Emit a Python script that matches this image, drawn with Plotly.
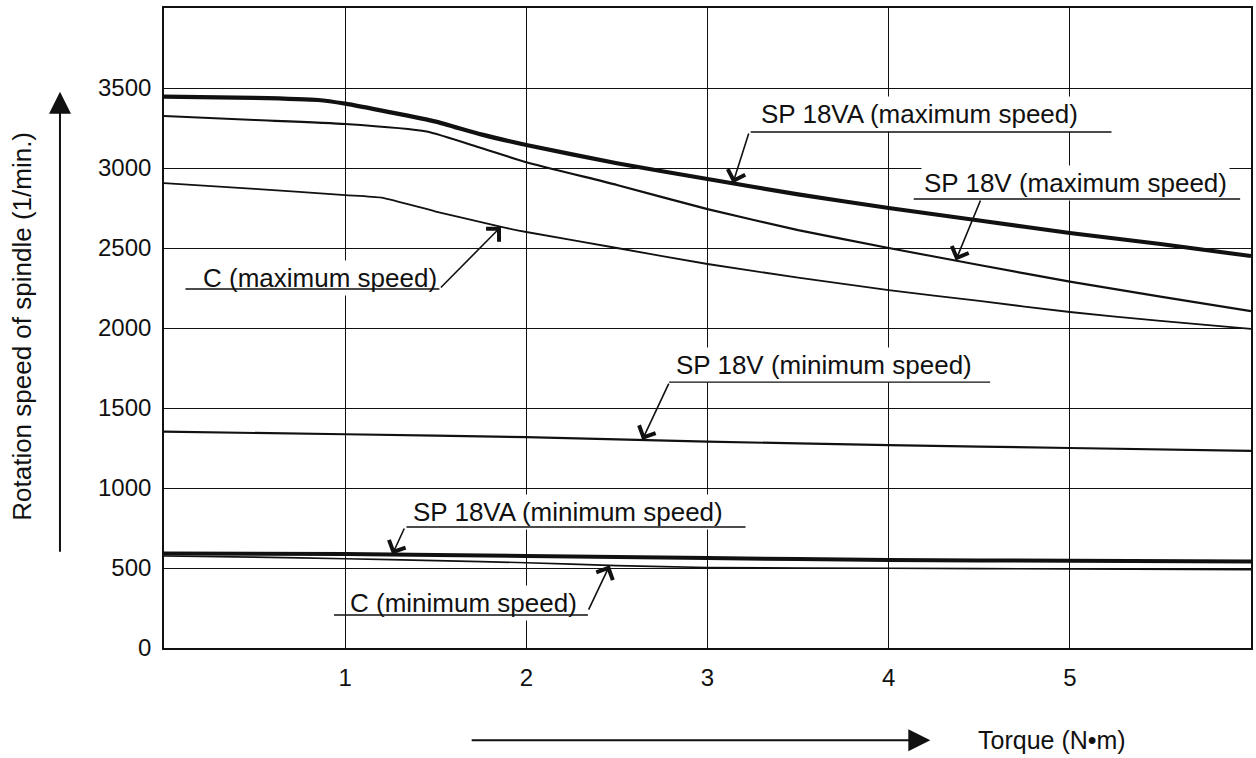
import numpy as np
import plotly.graph_objects as go

# ---------------- data ----------------
sp18va_max_x = [0, 0.5, 0.85, 1.0, 1.25, 1.5, 1.75, 2.0, 2.5, 3.0, 3.5, 4.0, 4.5, 5.0, 5.5, 6.0]
sp18va_max_y = [3446, 3438, 3425, 3402, 3348, 3290, 3210, 3144, 3030, 2931, 2835, 2750, 2672, 2594, 2525, 2450]

sp18v_max_x = [0, 0.5, 1.0, 1.45, 1.75, 2.0, 2.5, 3.0, 3.5, 4.0, 4.5, 5.0, 5.5, 6.0]
sp18v_max_y = [3325, 3300, 3275, 3228, 3125, 3036, 2894, 2743, 2612, 2500, 2394, 2290, 2196, 2106]

c_max_x = [0, 0.5, 1.0, 1.2, 1.5, 1.85, 2.0, 2.5, 3.0, 3.5, 4.0, 4.5, 5.0, 5.5, 6.0]
c_max_y = [2906, 2869, 2831, 2815, 2728, 2635, 2600, 2500, 2400, 2315, 2237, 2169, 2100, 2044, 1995]

sp18v_min_x = [0, 1, 2, 3, 4, 5, 6]
sp18v_min_y = [1352, 1336, 1318, 1290, 1268, 1250, 1232]

sp18va_min_x = [0, 1, 2, 3, 4, 5, 6]
sp18va_min_y = [590, 587, 575, 562, 550, 545, 540]

c_min_x = [0, 0.5, 1.0, 1.5, 2.0, 2.5, 3.0, 4.0, 5.0, 6.0]
c_min_y = [575, 568, 558, 546, 533, 515, 503, 498, 494, 490]

x_ticks = [1, 2, 3, 4, 5]
y_ticks = [0, 500, 1000, 1500, 2000, 2500, 3000, 3500]

# ---------------- curve labels ----------------
label_text = ["SP 18VA (maximum speed)", "SP 18V (maximum speed)", "C (maximum speed)",
              "SP 18V (minimum speed)", "SP 18VA (minimum speed)", "C (minimum speed)"]
label_x = [3.28, 4.18, 0.20, 2.81, 1.36, 1.01]
label_y = [3337, 2906, 2312, 1769, 850, 281]
under_x0 = [3.23, 4.13, 0.11, 2.78, 1.33, 0.93]
under_x1 = [5.23, 5.94, 1.52, 4.56, 3.21, 2.34]
under_y = [3225, 2806, 2244, 1662, 756, 206]
tail_x = [3.23, 4.51, 1.52, 2.79, 1.33, 2.34]
tail_y = [3225, 2806, 2244, 1662, 756, 230]
tip_x = [3.14, 4.37, 1.86, 2.64, 1.26, 2.46]
target = [(sp18va_max_x, sp18va_max_y), (sp18v_max_x, sp18v_max_y), (c_max_x, c_max_y),
          (sp18v_min_x, sp18v_min_y), (sp18va_min_x, sp18va_min_y), (c_min_x, c_min_y)]

FONT = "Liberation Sans, Arial, Helvetica, sans-serif"
INK = "#111111"

fig = go.Figure()
series = [
    (sp18va_max_x, sp18va_max_y, 4.2),
    (sp18v_max_x, sp18v_max_y, 2.2),
    (c_max_x, c_max_y, 1.8),
    (sp18v_min_x, sp18v_min_y, 2.2),
    (sp18va_min_x, sp18va_min_y, 4.0),
    (c_min_x, c_min_y, 1.6),
]
for xs, ys, w in series:
    fig.add_trace(go.Scatter(x=xs, y=ys, mode="lines",
                             line=dict(color=INK, width=w, shape="spline", smoothing=0.5),
                             hoverinfo="skip"))

annotations = []
for i, t in enumerate(label_text):
    annotations.append(dict(x=label_x[i], y=label_y[i], xref="x", yref="y", text=t,
                            showarrow=False, xanchor="left", yanchor="middle",
                            bgcolor="white", borderpad=2,
                            font=dict(family=FONT, size=26, color=INK)))
for i in range(len(label_text)):
    # underline
    annotations.append(dict(x=under_x1[i], y=under_y[i], ax=under_x0[i], ay=under_y[i],
                            xref="x", yref="y", axref="x", ayref="y", text="",
                            showarrow=True, arrowhead=0, arrowwidth=1.4, arrowcolor=INK))
    # leader arrow
    tx, ty = target[i]
    tip_y = float(np.interp(tip_x[i], tx, ty))
    annotations.append(dict(x=tip_x[i], y=tip_y, ax=tail_x[i], ay=tail_y[i],
                            xref="x", yref="y", axref="x", ayref="y", text="",
                            showarrow=True, arrowhead=4, arrowsize=2.2, arrowwidth=1.6,
                            arrowcolor=INK))

# axis titles with long arrows
annotations.append(dict(x=-0.1306, y=0.502, xref="x domain", yref="y domain",
                        text="Rotation speed of spindle (1/min.)", textangle=-90,
                        showarrow=False, xanchor="center", yanchor="middle",
                        font=dict(family=FONT, size=26, color=INK)))
annotations.append(dict(x=-0.0957, y=0.869, ax=-0.0957, ay=0.148,
                        xref="x domain", yref="y domain", axref="x domain", ayref="y domain",
                        text="", showarrow=True, arrowhead=2, arrowsize=2.2, arrowwidth=2,
                        arrowcolor=INK))
annotations.append(dict(x=4.90, y=-0.144, xref="x", yref="y domain",
                        text="Torque (N•m)", showarrow=False, xanchor="center", yanchor="middle",
                        font=dict(family=FONT, size=25, color=INK)))
annotations.append(dict(x=4.23, y=-0.144, ax=1.69, ay=-0.144,
                        xref="x", yref="y domain", axref="x", ayref="y domain",
                        text="", showarrow=True, arrowhead=2, arrowsize=2.2, arrowwidth=2,
                        arrowcolor=INK))

fig.update_layout(
    width=1256, height=758,
    margin=dict(l=164, r=5, t=8, b=110),
    paper_bgcolor="white", plot_bgcolor="white",
    showlegend=False,
    font=dict(family=FONT, size=24, color=INK),
    annotations=annotations,
)
fig.update_xaxes(range=[0, 6], tickvals=x_ticks, ticktext=[str(v) for v in x_ticks],
                 showgrid=True, gridcolor=INK, gridwidth=1.3, zeroline=False,
                 showline=True, linecolor=INK, linewidth=1.6, mirror=True,
                 ticks="", ticklabelstandoff=7, tickfont=dict(size=24), automargin=False)
fig.update_yaxes(range=[0, 4000], tickvals=y_ticks, ticktext=[str(v) for v in y_ticks],
                 showgrid=True, gridcolor=INK, gridwidth=1.3, zeroline=False,
                 showline=True, linecolor=INK, linewidth=1.6, mirror=True,
                 ticks="", ticklabelstandoff=6, tickfont=dict(size=24), automargin=False)

fig.write_html("out.html",
               config={"displayModeBar": False},
               post_script="document.body.style.margin='0';document.body.style.padding='0';"
                           "document.body.style.overflow='hidden';")
